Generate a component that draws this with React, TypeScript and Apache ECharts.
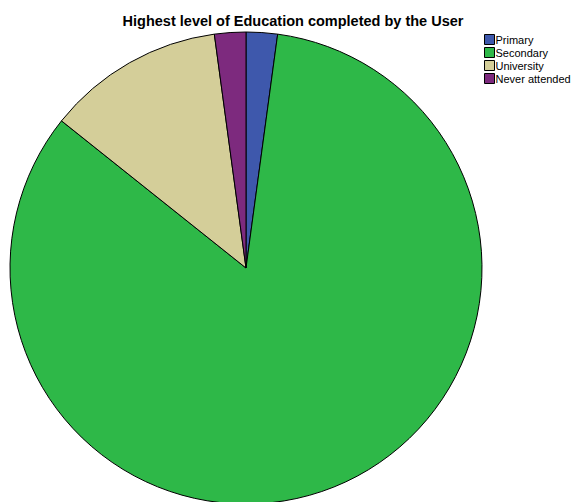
import React, { useEffect, useRef } from "react";
import * as echarts from "echarts";

const categories = ["Primary", "Secondary", "University", "Never attended"];
const counts = [3, 117, 17, 3];
const colors = ["#3E58AC", "#2EB848", "#D4CE99", "#7D2A7E"];
const titleText = "Highest level of Education completed by the User";

export default function App() {
  const ref = useRef<HTMLDivElement>(null);
  useEffect(() => {
    if (!ref.current) return;
    const chart = echarts.init(ref.current, null, { renderer: "svg" });
    chart.setOption({
      animation: false,
      backgroundColor: "#ffffff",
      title: {
        text: titleText,
        left: 288,
        textAlign: "center",
        top: 8,
        textStyle: {
          fontFamily: "Liberation Sans, Arial, sans-serif",
          fontSize: 14.5,
          fontWeight: "bold",
          color: "#000",
        },
      },
      legend: {
        orient: "vertical",
        left: 484,
        top: 34,
        padding: 0,
        itemWidth: 10,
        itemHeight: 10,
        itemGap: 2,
        icon: "rect",
        data: categories,
        textStyle: {
          fontFamily: "Liberation Sans, Arial, sans-serif",
          fontSize: 11,
          color: "#000",
          padding: [0, 0, 0, -4],
        },
        itemStyle: { borderColor: "#000", borderWidth: 1 },
      },
      series: [
        {
          type: "pie",
          center: [246, 268],
          radius: 236,
          startAngle: 90,
          clockwise: true,
          label: { show: false },
          labelLine: { show: false },
          emphasis: { disabled: true },
          itemStyle: { borderColor: "#000", borderWidth: 1 },
          data: categories.map((c, i) => ({
            name: c,
            value: counts[i],
            itemStyle: { color: colors[i] },
          })),
        },
      ],
    });
    return () => chart.dispose();
  }, []);
  return (
    <div
      ref={ref}
      style={{ position: "fixed", left: 0, top: 0, width: 574, height: 502 }}
    />
  );
}
